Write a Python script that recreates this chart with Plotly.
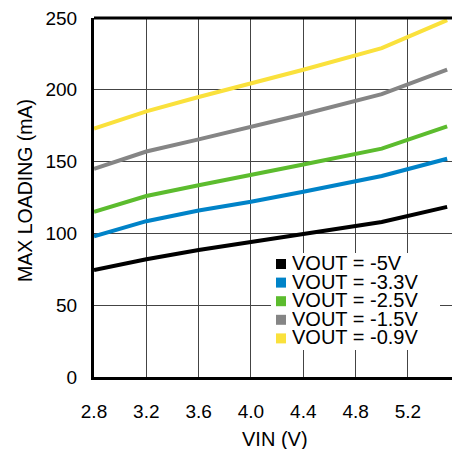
import plotly.graph_objects as go

vin = [2.8, 3.2, 3.6, 4.0, 4.4, 5.0, 5.5]
vout_5 = [74.5, 82, 88.5, 94, 99.5, 108, 118.5]
vout_33 = [98, 108.5, 116, 122, 129, 140, 152]
vout_25 = [115, 126, 133.5, 141, 148, 159, 174.5]
vout_15 = [145, 157, 165.5, 174, 183, 197, 214]
vout_09 = [173, 185, 195, 204.5, 214, 229, 248.5]

series_names = ["VOUT = -5V", "VOUT = -3.3V", "VOUT = -2.5V", "VOUT = -1.5V", "VOUT = -0.9V"]
series_values = [vout_5, vout_33, vout_25, vout_15, vout_09]
series_colors = ["#000000", "#0083c8", "#5cbc2e", "#858585", "#fae13c"]
x_ticks = [2.8, 3.2, 3.6, 4.0, 4.4, 4.8, 5.2]
x_ticktext = ["2.8", "3.2", "3.6", "4.0", "4.4", "4.8", "5.2"]
y_ticks = [0, 50, 100, 150, 200, 250]

W, H = 452, 449
ML, MR, MT, MB = 94, 0, 18, 72
PW, PH = W - ML - MR, H - MT - MB


def px(xp):
    return (xp - ML) / PW


def py(yp):
    return (H - MB - yp) / PH


fig = go.Figure()
for name, ys, col in zip(series_names, series_values, series_colors):
    fig.add_trace(go.Scatter(x=vin, y=ys, mode="lines", name=name,
                             line=dict(color=col, width=4),
                             showlegend=False, hoverinfo="skip"))

font = "Liberation Sans, Arial, sans-serif"
shapes = [
    dict(type="line", xref="paper", yref="paper", x0=0, x1=1, y0=1, y1=1,
         line=dict(color="black", width=3)),
    dict(type="rect", xref="paper", yref="paper", x0=px(271), x1=px(440),
         y0=py(350), y1=py(253), fillcolor="white", line=dict(width=0), layer="above"),
]
annotations = []
row_y0, row_dy = 263, 18.6
for i, (name, col) in enumerate(zip(series_names, series_colors)):
    yc = row_y0 + i * row_dy
    shapes.append(dict(type="rect", xref="paper", yref="paper",
                       x0=px(276), x1=px(286), y0=py(yc + 6), y1=py(yc - 4),
                       fillcolor=col, line=dict(width=0), layer="above"))
    annotations.append(dict(xref="paper", yref="paper", x=px(291), y=py(yc),
                            xanchor="left", yanchor="middle", text=name,
                            showarrow=False, borderpad=0, height=18,
                            font=dict(size=20, family=font)))

annotations.append(dict(xref="paper", yref="paper", x=px(275), y=py(439),
                        xanchor="center", yanchor="middle", text="VIN (V)",
                        showarrow=False, font=dict(size=20, family=font)))
annotations.append(dict(xref="paper", yref="paper", x=px(25), y=py(191),
                        xanchor="center", yanchor="middle", text="MAX LOADING (mA)",
                        textangle=-90, showarrow=False, font=dict(size=19.5, family=font)))

fig.update_layout(
    width=W, height=H,
    margin=dict(l=ML, r=MR, t=MT, b=MB, pad=0),
    paper_bgcolor="white", plot_bgcolor="white",
    font=dict(family=font, size=19, color="black"),
    showlegend=False,
    xaxis=dict(range=[2.8, 5.537], tickvals=x_ticks, ticktext=x_ticktext,
               showgrid=True, gridcolor="#444444", gridwidth=1,
               showline=True, linecolor="black", linewidth=3,
               ticks="", ticklabelstandoff=15, zeroline=False, automargin=False),
    yaxis=dict(range=[0, 250], tickvals=y_ticks,
               showgrid=True, gridcolor="#444444", gridwidth=1,
               showline=True, linecolor="black", linewidth=3,
               ticks="", ticklabelstandoff=10, zeroline=False, automargin=False),
    shapes=shapes,
    annotations=annotations,
)
fig.write_html("out.html", config={"displayModeBar": False},
               post_script="document.body.style.margin='0';document.body.style.padding='0';")
